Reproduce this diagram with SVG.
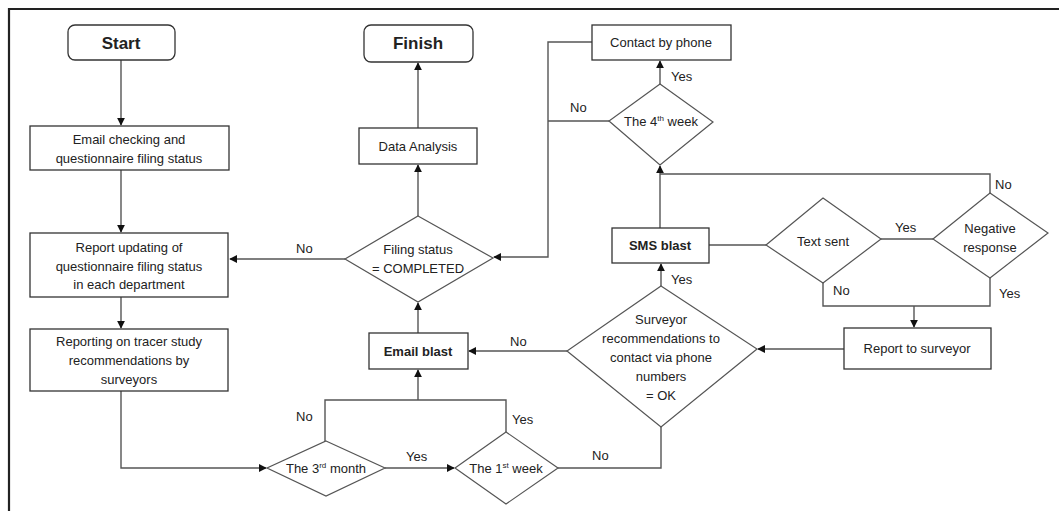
<svg xmlns="http://www.w3.org/2000/svg" width="1059" height="511" viewBox="0 0 1059 511">
<style>
.box{fill:#fff;stroke:#333;stroke-width:1.3}
.dia{fill:#fff;stroke:#555;stroke-width:1.2}
.ln{fill:none;stroke:#555;stroke-width:1.4}
text{font-family:"Liberation Sans",Arial,sans-serif;font-size:13px;fill:#222;text-anchor:middle}
.b{font-weight:bold}
.big{font-size:17px;font-weight:bold}
.lab{text-anchor:start}
.sup{font-size:8px}
</style>
<defs>
<marker id="ah" viewBox="0 0 10 10" refX="9" refY="5" markerWidth="8" markerHeight="8" markerUnits="userSpaceOnUse" orient="auto"><path d="M0,0 L10,5 L0,10 z" fill="#111"/></marker>
</defs>
<rect width="1059" height="511" fill="#fff"/>
<path d="M9,511 V9 H1059" fill="none" stroke="#222" stroke-width="2.2"/>

<g id="connectors">
<path class="ln" d="M121,60 V125" marker-end="url(#ah)"/>
<path class="ln" d="M121,170 V232" marker-end="url(#ah)"/>
<path class="ln" d="M121,297 V328" marker-end="url(#ah)"/>
<path class="ln" d="M121,391 V468 H266" marker-end="url(#ah)"/>
<path class="ln" d="M385,468 H454" marker-end="url(#ah)"/>
<path class="ln" d="M325,441 V400 H506 V432"/>
<path class="ln" d="M418,400 V370" marker-end="url(#ah)"/>
<path class="ln" d="M558,468 H661 V427"/>
<path class="ln" d="M418,333 V303" marker-end="url(#ah)"/>
<path class="ln" d="M345,259 H230" marker-end="url(#ah)"/>
<path class="ln" d="M418,216 V165" marker-end="url(#ah)"/>
<path class="ln" d="M418,128 V63" marker-end="url(#ah)"/>
<path class="ln" d="M592,42 H548 V257 H494" marker-end="url(#ah)"/>
<path class="ln" d="M609,121 H548"/>
<path class="ln" d="M660,84 V61" marker-end="url(#ah)"/>
<path class="ln" d="M660,228 V166" marker-end="url(#ah)"/>
<path class="ln" d="M660,174 H990 V193"/>
<path class="ln" d="M709,245 H766"/>
<path class="ln" d="M881,239 H933"/>
<path class="ln" d="M823,283 V306 H990 V278"/>
<path class="ln" d="M914,306 V327" marker-end="url(#ah)"/>
<path class="ln" d="M844,349 H758" marker-end="url(#ah)"/>
<path class="ln" d="M661,286 V264" marker-end="url(#ah)"/>
<path class="ln" d="M567,351 H469" marker-end="url(#ah)"/>
<text class="lab" x="296" y="253">No</text>
<text class="lab" x="296" y="421">No</text>
<text class="lab" x="406" y="461">Yes</text>
<text class="lab" x="512" y="424">Yes</text>
<text class="lab" x="592" y="460">No</text>
<text class="lab" x="510" y="346">No</text>
<text class="lab" x="671" y="284">Yes</text>
<text class="lab" x="570" y="112">No</text>
<text class="lab" x="671" y="81">Yes</text>
<text class="lab" x="995" y="189">No</text>
<text class="lab" x="895" y="232">Yes</text>
<text class="lab" x="833" y="295">No</text>
<text class="lab" x="999" y="298">Yes</text>
</g>

<g id="start"><rect class="box" x="68" y="25" width="107" height="35" rx="7"/><text class="big" x="121" y="49">Start</text></g>
<g id="email-check"><rect class="box" x="30" y="126" width="199" height="44"/><text x="129" y="144">Email checking and</text><text x="129" y="163">questionnaire filing status</text></g>
<g id="report-updating"><rect class="box" x="30" y="233" width="198" height="64"/><text x="129" y="252">Report updating of</text><text x="129" y="271">questionnaire filing status</text><text x="129" y="289">in each department</text></g>
<g id="reporting-tracer"><rect class="box" x="30" y="329" width="198" height="62"/><text x="129" y="346">Reporting on tracer study</text><text x="129" y="365">recommendations by</text><text x="129" y="384">surveyors</text></g>
<g id="third-month"><polygon class="dia" points="326,441 385,468 326,496 267,468"/><text x="326" y="473">The 3<tspan class="sup" dy="-5">rd</tspan><tspan dy="5"> month</tspan></text></g>
<g id="first-week"><polygon class="dia" points="506,432 558,468 506,504 455,468"/><text x="506" y="473">The 1<tspan class="sup" dy="-5">st</tspan><tspan dy="5"> week</tspan></text></g>
<g id="email-blast"><rect class="box" x="369" y="333" width="99" height="36"/><text class="b" x="418" y="356">Email blast</text></g>
<g id="filing-status"><polygon class="dia" points="418,216 493,258 418,302 345,259"/><text x="418" y="254">Filing status</text><text x="418" y="273">= COMPLETED</text></g>
<g id="data-analysis"><rect class="box" x="359" y="128" width="118" height="36"/><text x="418" y="151">Data Analysis</text></g>
<g id="finish"><rect class="box" x="364" y="25" width="109" height="37" rx="7"/><text class="big" x="418" y="49">Finish</text></g>
<g id="contact-phone"><rect class="box" x="592" y="25" width="139" height="35"/><text x="661" y="47">Contact by phone</text></g>
<g id="fourth-week"><polygon class="dia" points="660,84 713,122 660,165 609,121"/><text x="661" y="126">The 4<tspan class="sup" dy="-5">th</tspan><tspan dy="5"> week</tspan></text></g>
<g id="sms-blast"><rect class="box" x="612" y="228" width="97" height="35"/><text class="b" x="660" y="250">SMS blast</text></g>
<g id="text-sent"><polygon class="dia" points="823,198 881,239 823,283 766,245"/><text x="823" y="246">Text sent</text></g>
<g id="negative-response"><polygon class="dia" points="990,193 1048,233 990,278 933,239"/><text x="990" y="233">Negative</text><text x="990" y="252">response</text></g>
<g id="report-surveyor"><rect class="box" x="844" y="328" width="147" height="41"/><text x="917" y="353">Report to surveyor</text></g>
<g id="surveyor-ok"><polygon class="dia" points="661,286 757,349 661,427 567,351"/><text x="661" y="324">Surveyor</text><text x="661" y="343">recommendations to</text><text x="661" y="362">contact via phone</text><text x="661" y="381">numbers</text><text x="661" y="400">= OK</text></g>
</svg>
